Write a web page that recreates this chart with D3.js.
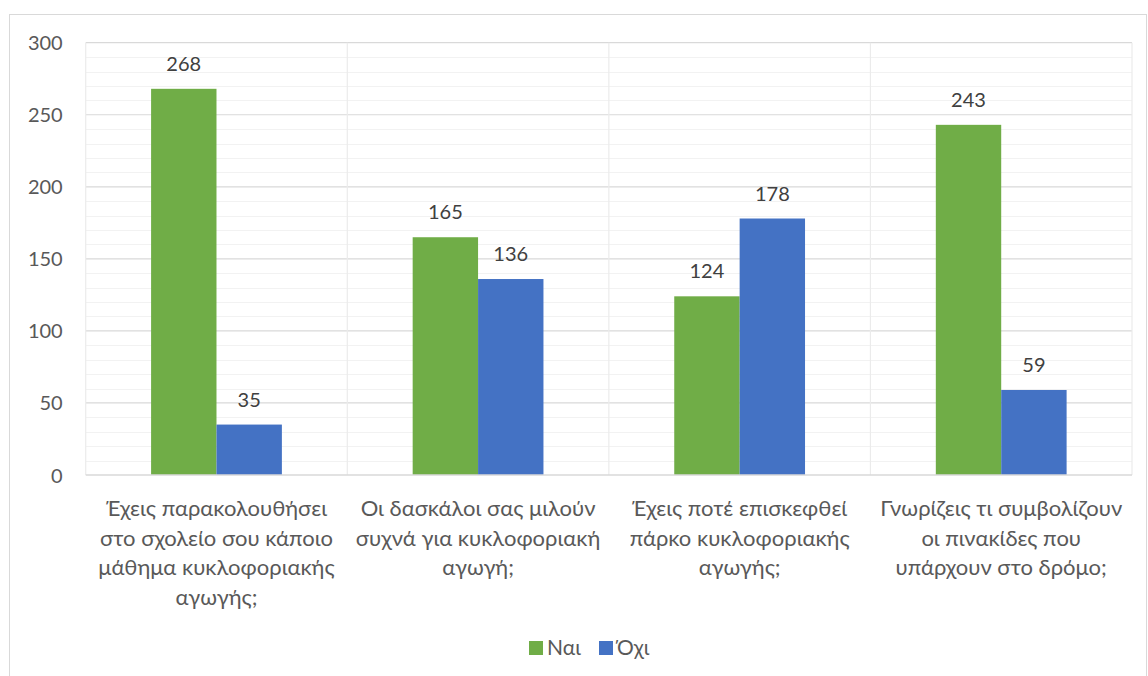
<!DOCTYPE html>
<html>
<head>
<meta charset="utf-8">
<script src="https://cdn.jsdelivr.net/npm/d3@7"></script>
<style>
  html, body { margin: 0; padding: 0; background: #fff; }
  svg { display: block; font-family: Lato, "Open Sans", sans-serif; }
</style>
</head>
<body>
<svg id="chart" width="1148" height="676"></svg>
<script>
// Survey questions on road-safety education, answer counts per question
const categories = [
  ["Έχεις παρακολουθήσει", "στο σχολείο σου κάποιο", "μάθημα κυκλοφοριακής", "αγωγής;"],
  ["Οι δασκάλοι σας μιλούν", "συχνά για κυκλοφοριακή", "αγωγή;"],
  ["Έχεις ποτέ επισκεφθεί", "πάρκο κυκλοφοριακής", "αγωγής;"],
  ["Γνωρίζεις τι συμβολίζουν", "οι πινακίδες που", "υπάρχουν στο δρόμο;"]
];
const seriesNames = ["Ναι", "Όχι"];
const yesValues = [268, 165, 124, 243];
const noValues = [35, 136, 178, 59];
const yTicks = [0, 50, 100, 150, 200, 250, 300];
const colors = ["#70ad47", "#4472c4"];

const svg = d3.select("#chart");
const plot = { left: 85.7, right: 1132, top: 42.7, bottom: 475 };

// chart frame
svg.append("rect")
  .attr("x", 9.5).attr("y", 14.5)
  .attr("width", 1137).attr("height", 700)
  .attr("fill", "none").attr("stroke", "#d9d9d9").attr("stroke-width", 1);

const x0 = d3.scaleBand()
  .domain(d3.range(categories.length))
  .range([plot.left, plot.right])
  .paddingInner(0).paddingOuter(0);

// two bars fill the middle half of each category
const x1 = d3.scaleBand()
  .domain(d3.range(seriesNames.length))
  .range([0, x0.bandwidth()])
  .paddingOuter(1).paddingInner(0);

const y = d3.scaleLinear().domain([0, 300]).range([plot.bottom, plot.top]);

const grid = svg.append("g");
// minor gridlines every 10
d3.range(10, 300, 10).filter(v => v % 50 !== 0).forEach(v => {
  grid.append("line")
    .attr("x1", plot.left).attr("x2", plot.right)
    .attr("y1", Math.round(y(v)) + 0.5).attr("y2", Math.round(y(v)) + 0.5)
    .attr("stroke", "#f2f2f2").attr("stroke-width", 1);
});
// major gridlines
yTicks.filter(v => v > 0).forEach(v => {
  grid.append("line")
    .attr("x1", plot.left).attr("x2", plot.right)
    .attr("y1", y(v)).attr("y2", y(v))
    .attr("stroke", "#d9d9d9").attr("stroke-width", 1.2);
});
// vertical category separators
d3.range(categories.length + 1).forEach(i => {
  const xv = i < categories.length ? x0(i) : plot.right;
  grid.append("line")
    .attr("x1", xv).attr("x2", xv)
    .attr("y1", plot.top).attr("y2", plot.bottom)
    .attr("stroke", "#ebebeb").attr("stroke-width", 1.2);
});

// bars
const data = categories.map((c, i) => [yesValues[i], noValues[i]]);
const groups = svg.append("g").selectAll("g")
  .data(data).join("g")
  .attr("transform", (d, i) => `translate(${x0(i)},0)`);

groups.selectAll("rect")
  .data(d => d).join("rect")
  .attr("x", (d, j) => x1(j))
  .attr("width", x1.bandwidth())
  .attr("y", d => y(d))
  .attr("height", d => y(0) - y(d))
  .attr("fill", (d, j) => colors[j]);

groups.selectAll("text.val")
  .data(d => d).join("text")
  .attr("class", "val")
  .attr("x", (d, j) => x1(j) + x1.bandwidth() / 2)
  .attr("y", d => y(d) - 18)
  .attr("text-anchor", "middle")
  .attr("font-size", 20)
  .attr("fill", "#404040")
  .text(d => d);

// baseline
svg.append("line")
  .attr("x1", plot.left).attr("x2", plot.right)
  .attr("y1", y(0)).attr("y2", y(0))
  .attr("stroke", "#d9d9d9").attr("stroke-width", 1.5);

// y axis
const yAxis = d3.axisLeft(y).tickValues(yTicks).tickSize(0).tickPadding(0);
const yg = svg.append("g").attr("transform", `translate(${plot.left - 23},0)`).call(yAxis);
yg.select(".domain").remove();
yg.selectAll("text")
  .attr("font-size", 20).attr("font-family", "Lato, 'Open Sans', sans-serif")
  .attr("fill", "#595959").attr("text-anchor", "end").attr("dy", "0.35em");

// category labels
const xg = svg.append("g");
categories.forEach((lines, i) => {
  const cx = x0(i) + x0.bandwidth() / 2;
  const t = xg.append("text")
    .attr("x", cx)
    .attr("y", 516)
    .attr("text-anchor", "middle")
    .attr("font-size", 22)
    .attr("fill", "#595959");
  lines.forEach((ln, k) => {
    t.append("tspan")
      .attr("x", cx)
      .attr("y", 516 + k * 29.5)
      .text(ln);
  });
});

// legend
const legend = svg.append("g");
const legendX = [529, 599];
seriesNames.forEach((name, j) => {
  legend.append("rect")
    .attr("x", legendX[j]).attr("y", 641)
    .attr("width", 14).attr("height", 14)
    .attr("fill", colors[j]);
  legend.append("text")
    .attr("x", legendX[j] + 18).attr("y", 655)
    .attr("font-size", 21).attr("fill", "#595959")
    .text(name);
});
</script>
</body>
</html>
